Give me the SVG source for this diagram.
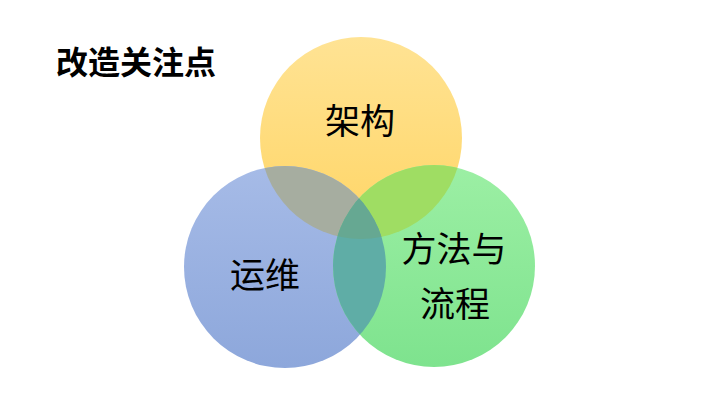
<svg xmlns="http://www.w3.org/2000/svg" width="720" height="405" viewBox="0 0 720 405">
<defs>
<linearGradient id="gy" x1="0" y1="0" x2="0" y2="1"><stop offset="0" stop-color="#FFE394"/><stop offset="1" stop-color="#FFD565"/></linearGradient>
<linearGradient id="gb" x1="0" y1="0" x2="0" y2="1"><stop offset="0" stop-color="#A6BBE7"/><stop offset="1" stop-color="#8DA7DB"/></linearGradient>
<linearGradient id="gg" x1="0" y1="0" x2="0" y2="1"><stop offset="0" stop-color="#9CEFA4"/><stop offset="1" stop-color="#7EE38E"/></linearGradient>
<clipPath id="cy"><circle cx="361" cy="138" r="101"/></clipPath>
<clipPath id="cb"><circle cx="285" cy="267" r="101"/></clipPath>
<style>
.t{font-family:"Noto Sans CJK SC","Noto Sans",sans-serif;fill:#000;text-anchor:middle;font-size:35px}
.h{font-family:"Noto Sans CJK SC","Noto Sans",sans-serif;fill:#000;font-size:32px;font-weight:700}
</style>
</defs>
<rect width="720" height="405" fill="#fff"/>
<text class="h" x="56" y="74">改造关注点</text>
<g id="n-arch"><circle cx="361" cy="138" r="101" fill="url(#gy)"/></g>
<g id="n-ops"><circle cx="285" cy="267" r="101" fill="url(#gb)"/></g>
<g id="n-proc"><circle cx="434" cy="266" r="101" fill="url(#gg)"/></g>
<g id="overlaps">
<circle cx="285" cy="267" r="101" fill="#A6ADA0" clip-path="url(#cy)"/>
<circle cx="434" cy="266" r="101" fill="#9FDD63" clip-path="url(#cy)"/>
<circle cx="434" cy="266" r="101" fill="#5FADA6" clip-path="url(#cb)"/>
<g clip-path="url(#cy)"><circle cx="434" cy="266" r="101" fill="#66A892" clip-path="url(#cb)"/></g>
</g>
<g id="labels">
<text class="t" x="360" y="134">架构</text>
<text class="t" x="265" y="288">运维</text>
<text class="t" x="454" y="262">方法与</text>
<text class="t" x="455" y="317">流程</text>
</g>
<g id="connectors"/>
</svg>
